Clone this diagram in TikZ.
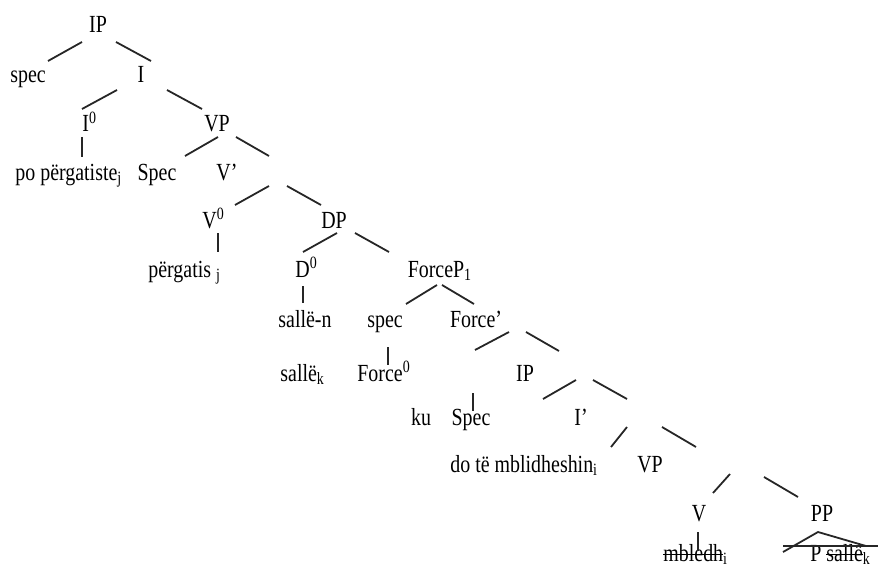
\documentclass[tikz,border=0pt]{standalone}
\usepackage{fontspec}
\setmainfont{Liberation Serif}[FakeStretch=0.81]
\usepackage{tikz}

% struck-out word
\newcommand{\strk}[1]{\setbox0\hbox{#1}\rlap{\rule[0.24em]{\wd0}{0.8pt}}\box0}

\begin{document}
\begin{tikzpicture}[x=0.5pt, y=-0.5pt, font=\fontsize{12.3}{14}\selectfont,
    lab/.style={inner sep=0pt, anchor=base},
    labw/.style={inner sep=0pt, anchor=base west},
    br/.style={line width=0.9pt, black!85}]

    \useasboundingbox (0,0) rectangle (878,567);

    % 1. Labels, row by row
    \node[lab] (ipA) at (98,33) {IP};
    \node[lab] (specA) at (28,83) {spec};
    \node[lab] (ibar) at (141,83) {I};
    \node[labw] (izero) at (82,132) {I\textsuperscript{0}};
    \node[lab] (vpA) at (217,132) {VP};
    \node[labw] (poA) at (15,180) {po përgatiste\textsubscript{j}};
    \node[lab] (specB) at (157,180) {Spec};
    \node[lab] (vbarA) at (227,180) {V’};
    \node[labw] (vzero) at (202,228) {V\textsuperscript{0}};
    \node[lab] (dpA) at (334,228) {DP};
    \node[labw] (pergA) at (148,277) {përgatis \textsubscript{j}};
    \node[labw] (dzero) at (295,277) {D\textsuperscript{0}};
    \node[lab] (forcepA) at (440,277) {ForceP\textsubscript{1}};
    \node[lab] (sallenA) at (305,327) {sallë-n};
    \node[lab] (specC) at (385,327) {spec};
    \node[lab] (forcebar) at (476,327) {Force’};
    \node[labw] (sallekA) at (280,381) {sallë\textsubscript{k}};
    \node[labw] (forcezero) at (357,381) {Force\textsuperscript{0}};
    \node[lab] (ipB) at (525,381) {IP};
    \node[lab] (kuA) at (421,425) {ku};
    \node[lab] (specD) at (471,425) {Spec};
    \node[lab] (ibarB) at (581,425) {I’};
    \node[labw] (doteA) at (450,472) {do të mblidheshin\textsubscript{i}};
    \node[lab] (vpB) at (650,472) {VP};
    \node[lab] (vA) at (699,521) {V};
    \node[lab] (ppA) at (822,521) {PP};
    \node[labw] (mbledhA) at (663,561) {\strk{mbledh} \textsubscript{i}};
    \node[labw] (psalleA) at (810,561) {P \strk{sallë}\textsubscript{k}};

    % 2. Branches (loose segments, as in the original drawing)
    \draw[br] ([shift={(-16,9)}]ipA.base) -- ([shift={(20,-22)}]specA.base);
    \draw[br] ([shift={(18,9)}]ipA.base) -- ([shift={(10,-22)}]ibar.base);
    \draw[br] ([shift={(-24,7)}]ibar.base) -- ([shift={(0,-23)}]izero.base west);
    \draw[br] ([shift={(26,7)}]ibar.base) -- ([shift={(-15,-23)}]vpA.base);
    \draw[br] ([shift={(0,5)}]izero.base west) -- ([shift={(67,-23)}]poA.base west);
    \draw[br] ([shift={(1,5)}]vpA.base) -- ([shift={(28,-24)}]specB.base);
    \draw[br] ([shift={(19,5)}]vpA.base) -- ([shift={(42,-24)}]vbarA.base);
    \draw[br] ([shift={(42,6)}]vbarA.base) -- ([shift={(33,-23)}]vzero.base west);
    \draw[br] ([shift={(60,6)}]vbarA.base) -- ([shift={(-13,-23)}]dpA.base);
    \draw[br] ([shift={(16,5)}]vzero.base west) -- ([shift={(70,-25)}]pergA.base west);
    \draw[br] ([shift={(3,5)}]dpA.base) -- ([shift={(8,-25)}]dzero.base west);
    \draw[br] ([shift={(21,5)}]dpA.base) -- ([shift={(-51,-25)}]forcepA.base);
    \draw[br] ([shift={(8,9)}]dzero.base west) -- ([shift={(-2,-24)}]sallenA.base);
    \draw[br] ([shift={(-3,8)}]forcepA.base) -- ([shift={(21,-23)}]specC.base);
    \draw[br] ([shift={(2,8)}]forcepA.base) -- ([shift={(-2,-23)}]forcebar.base);
    \draw[br] ([shift={(3,20)}]specC.base) -- ([shift={(31,-16)}]forcezero.base west);
    \draw[br] ([shift={(33,5)}]forcebar.base) -- ([shift={(118,-31)}]forcezero.base west);
    \draw[br] ([shift={(50,5)}]forcebar.base) -- ([shift={(34,-30)}]ipB.base);
    \draw[br] ([shift={(2,-32)}]specD.base) -- ([shift={(2,-14)}]specD.base);
    \draw[br] ([shift={(51,-1)}]ipB.base) -- ([shift={(72,-26)}]specD.base);
    \draw[br] ([shift={(68,-1)}]ipB.base) -- ([shift={(46,-26)}]ibarB.base);
    \draw[br] ([shift={(46,2)}]ibarB.base) -- ([shift={(161,-25)}]doteA.base west);
    \draw[br] ([shift={(81,2)}]ibarB.base) -- ([shift={(46,-25)}]vpB.base);
    \draw[br] ([shift={(80,2)}]vpB.base) -- ([shift={(14,-28)}]vA.base);
    \draw[br] ([shift={(114,5)}]vpB.base) -- ([shift={(-24,-24)}]ppA.base);
    \draw[br] ([shift={(-1,11)}]vA.base) -- ([shift={(35,-10)}]mbledhA.base west);

    % 3. Triangle under PP
    \draw[br] ([shift={(-39,31)}]ppA.base) -- ([shift={(-4,11)}]ppA.base) -- ([shift={(44,25)}]ppA.base);
    \draw[br] ([shift={(-39,25)}]ppA.base) -- ([shift={(56,25)}]ppA.base);

\end{tikzpicture}
\end{document}
